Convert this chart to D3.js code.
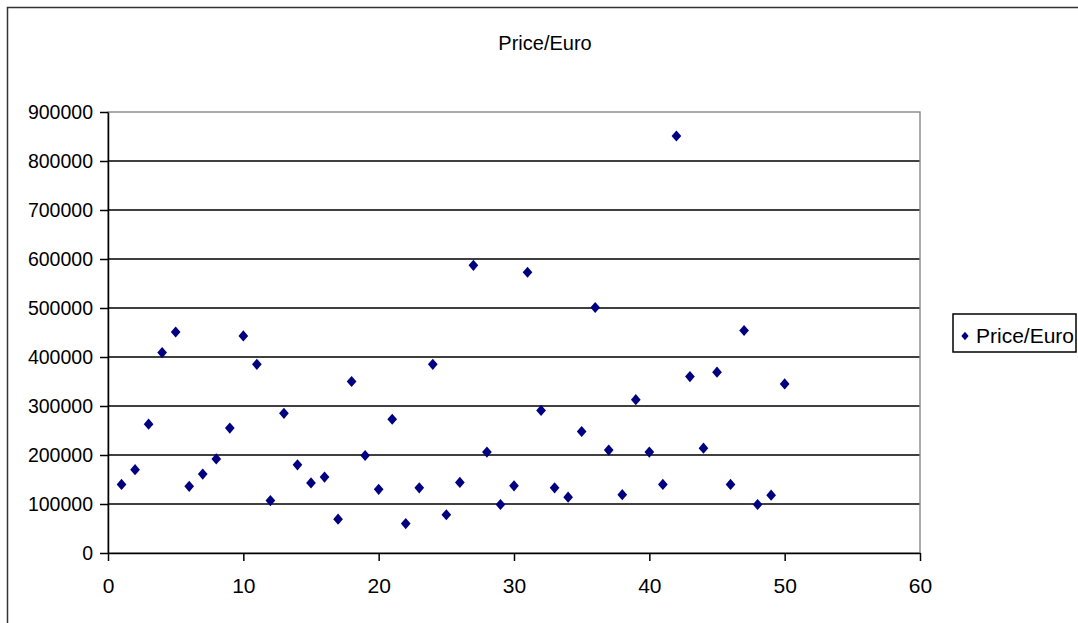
<!DOCTYPE html>
<html>
<head>
<meta charset="utf-8">
<script src="https://cdn.jsdelivr.net/npm/d3@7"></script>
<style>
	body { margin: 0; background: #fff; }
	text { font-family: "Liberation Sans", Arial, sans-serif; fill: #000; }
	.grid line { stroke: #000; stroke-width: 1.5; }
	.axis path, .axis line { stroke: #000; stroke-width: 1.5; }
	.axis text { font-size: 21px; }
	.axis.y text { font-size: 19.5px; }
</style>
</head>
<body>
<script>

// values
var ids = [1,2,3,4,5,6,7,8,9,10,11,12,13,14,15,16,17,18,19,20,21,22,23,24,25,
	26,27,28,29,30,31,32,33,34,35,36,37,38,39,40,41,42,43,44,45,46,47,48,49,50];
var prices = [140000,170000,263000,409000,451000,136000,161000,192000,255000,443000,
	385000,107000,285000,180000,143000,155000,69000,350000,199000,130000,
	273000,60000,133000,385000,78000,144000,587000,206000,99000,137000,
	573000,291000,133000,114000,248000,501000,210000,119000,313000,206000,
	140000,851000,360000,214000,369000,140000,454000,99000,118000,345000];
var xTicks = [0,10,20,30,40,50,60];
var yTicks = [0,100000,200000,300000,400000,500000,600000,700000,800000,900000];
var seriesName = "Price/Euro";

var w = 1078;
var h = 623;
var pLeft = 108, pRight = 920, pTop = 112, pBottom = 553;

var dataset = ids.map((d, i) => ({ Id: d, Price: prices[i] }));

var xScale = d3.scaleLinear()
	.domain([0, 60])
	.range([pLeft, pRight]);

var yScale = d3.scaleLinear()
	.domain([0, 900000])
	.range([pBottom, pTop]);

//Create SVG element
var svg = d3.select("body")
	.append("svg")
	.attr("width", w)
	.attr("height", h);

// chart border, runs off the right and bottom edge
svg.append("rect")
	.attr("x", 7.5)
	.attr("y", 7.5)
	.attr("width", w + 20)
	.attr("height", h + 20)
	.attr("fill", "none")
	.attr("stroke", "#333")
	.attr("stroke-width", 1.5);

//Title
svg.append("text")
	.text(seriesName)
	.attr("x", 545)
	.attr("y", 50)
	.attr("text-anchor", "middle")
	.attr("font-size", "20px");

//Gridlines
svg.append("g")
	.attr("class", "grid")
	.selectAll("line")
	.data(yTicks.filter(d => d > 0 && d < 900000))
	.enter()
	.append("line")
	.attr("x1", pLeft)
	.attr("x2", pRight)
	.attr("y1", d => yScale(d))
	.attr("y2", d => yScale(d));

//Plot area border (grey)
svg.append("rect")
	.attr("x", pLeft)
	.attr("y", pTop)
	.attr("width", pRight - pLeft)
	.attr("height", pBottom - pTop)
	.attr("fill", "none")
	.attr("stroke", "#888")
	.attr("stroke-width", 1.4);

//Define axes
var xAxis = d3.axisBottom()
	.scale(xScale)
	.tickValues(xTicks)
	.tickSize(8)
	.tickPadding(17)
	.tickSizeOuter(0);

var yAxis = d3.axisLeft()
	.scale(yScale)
	.tickValues(yTicks)
	.tickSize(8)
	.tickPadding(7)
	.tickFormat(d3.format("d"))
	.tickSizeOuter(0);

//Create X axis
svg.append("g")
	.attr("class", "axis x")
	.attr("transform", "translate(0," + pBottom + ")")
	.call(xAxis);

//Create Y axis
svg.append("g")
	.attr("class", "axis y")
	.attr("transform", "translate(" + pLeft + ",0)")
	.call(yAxis);

//Markers
var diamond = d3.symbol().type(d3.symbolDiamond2).size(60);

svg.selectAll("path.dot")
	.data(dataset)
	.enter()
	.append("path")
	.attr("class", "dot")
	.attr("d", diamond)
	.attr("transform", d => "translate(" + xScale(d.Id) + "," + yScale(d.Price) + ") scale(1,1.15)")
	.attr("fill", "#000080");

//Legend
svg.append("rect")
	.attr("x", 953)
	.attr("y", 314)
	.attr("width", 123)
	.attr("height", 38)
	.attr("fill", "#fff")
	.attr("stroke", "#000")
	.attr("stroke-width", 1.5);

svg.append("path")
	.attr("d", d3.symbol().type(d3.symbolDiamond2).size(34))
	.attr("transform", "translate(965,336) scale(1,1.15)")
	.attr("fill", "#000080");

svg.append("text")
	.text(seriesName)
	.attr("x", 976)
	.attr("y", 343)
	.attr("font-size", "21px");

</script>
</body>
</html>
